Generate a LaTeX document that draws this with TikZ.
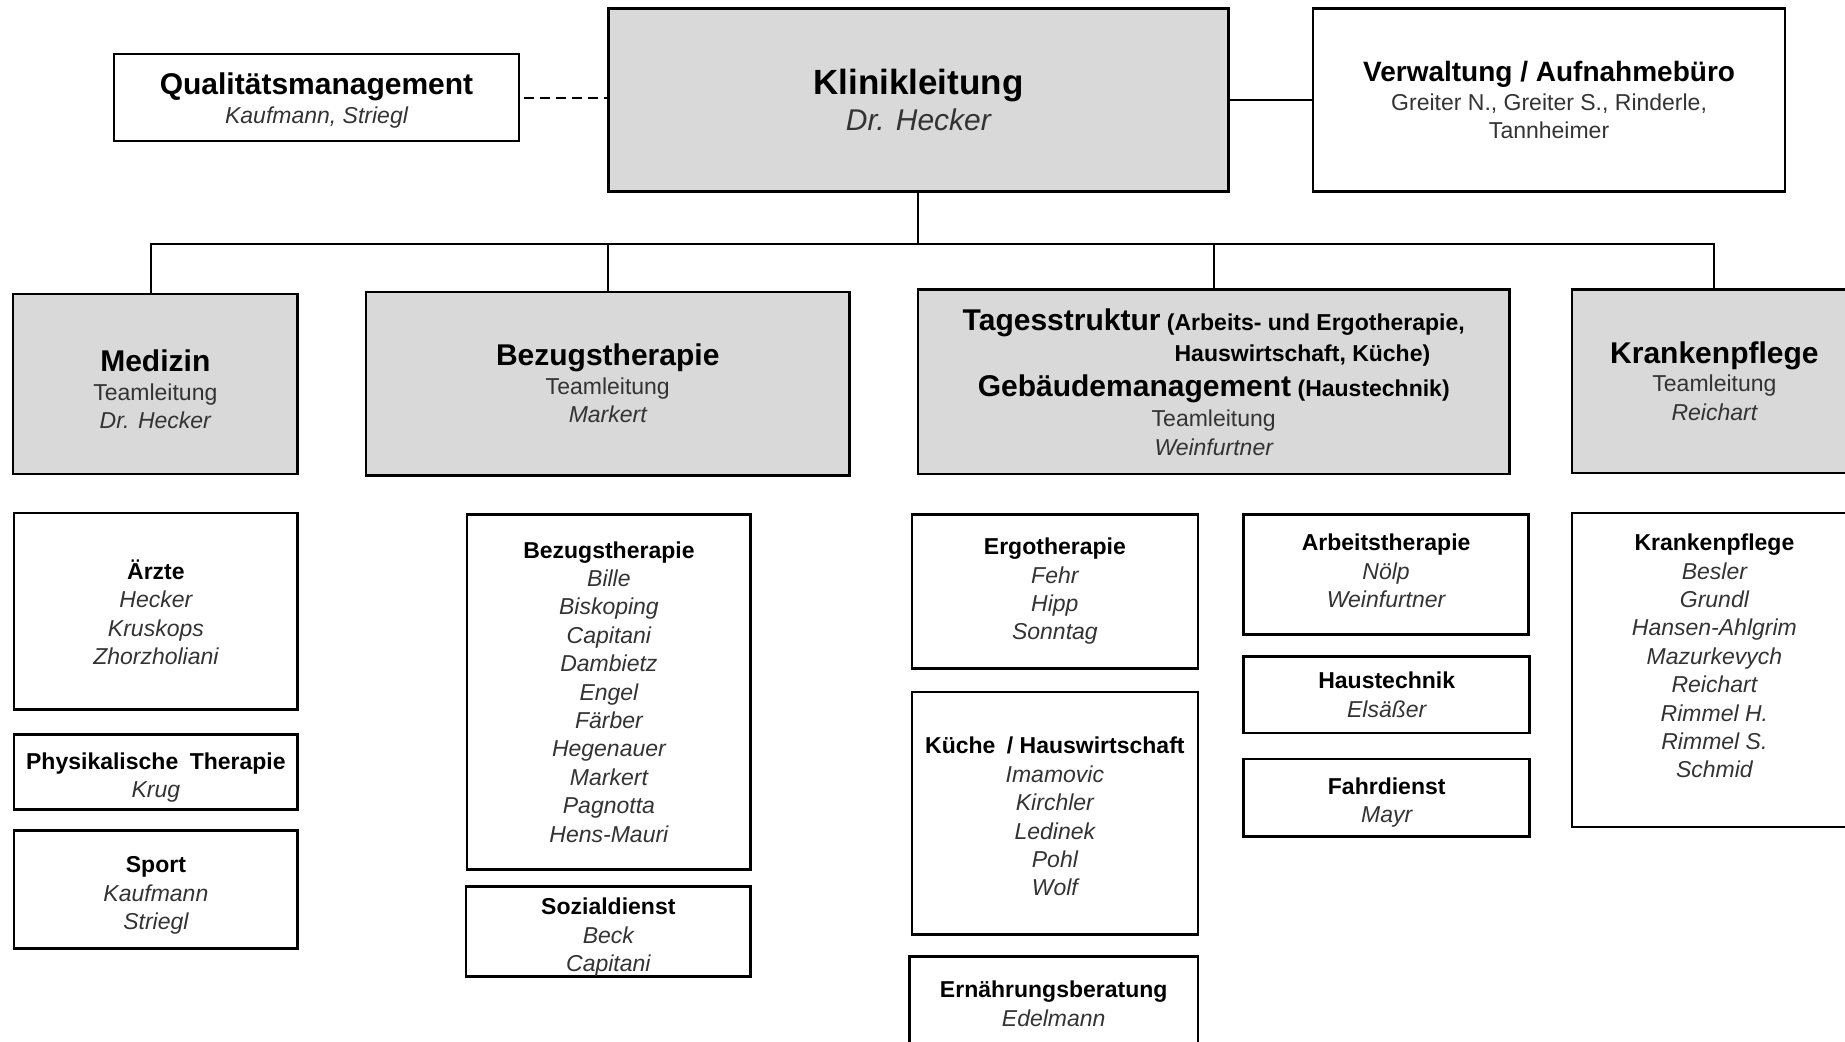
\documentclass[tikz,border=0pt]{standalone}
\usepackage{fontspec}
\setmainfont{Liberation Sans}
\definecolor{boxgray}{HTML}{D9D9D9}
\definecolor{namegray}{HTML}{333333}
\newcommand\Kopf[1]{{\fontsize{15}{17}\selectfont\bfseries #1}}
\newcommand\Person[1]{{\itshape\color{namegray}#1}}
\newcommand\Rolle[1]{{\color{namegray}#1}}
\newcommand\Hoch[1]{\rule{0pt}{#1}}
\newcommand\Tief[1]{\rule[-#1]{0pt}{#1}}
\tikzset{
  box/.style={draw, line width=1.3pt, fill=white, align=center, inner sep=0pt,
    font=\fontsize{11.5}{14.2}\selectfont},
  leitbox/.style={box, fill=boxgray},
  sz/.style 2 args={minimum width=#1*0.5883pt, minimum height=#2*0.5883pt},
  link/.style={line width=1pt},
}
\begin{document}
\begin{tikzpicture}[x=0.5883pt,y=0.5883pt,yscale=-1]
\useasboundingbox (0,0) rectangle (1568,885);
\clip (0,0) rectangle (1568,885);

%Box: Klinikleitung
\node[leitbox, sz={527}{156}, font=\fontsize{15}{17.6}\selectfont] (klinik) at (780.5,85)
  {{\fontsize{17.5}{20}\selectfont\bfseries Klinikleitung}\\ \Person{Dr. Hecker}};
%Box: Qualitaetsmanagement
\node[box, sz={344}{74}] (qual) at (269,83)
  {\Hoch{13.8pt}\Kopf{Qualitätsmanagement}\\ \Person{Kaufmann, Striegl}};
%Box: Verwaltung
\node[box, sz={401}{156}] (verw) at (1316.5,85)
  {{\fontsize{14}{16}\selectfont\bfseries Verwaltung / Aufnahmebüro}\\
   \Rolle{Greiter N., Greiter S., Rinderle,}\\ \Rolle{Tannheimer}};

%Boxes: Leitung der Bereiche
\node[leitbox, sz={242}{153}] (med) at (132,326.5)
  {\Hoch{16.3pt}\Kopf{Medizin}\\ \Rolle{Teamleitung}\\ \Person{Dr. Hecker}};
\node[leitbox, sz={411}{156}] (bez) at (516.5,326)
  {\Kopf{Bezugstherapie}\\ \Rolle{Teamleitung}\\ \Person{Markert}};
\node[leitbox, sz={503}{157}] (tag) at (1031.5,324.5)
  {\Kopf{Tagesstruktur} {\bfseries (Arbeits- und Ergotherapie,}\\[1.7pt]
   {\bfseries\phantom{\Kopf{Tagesstruktur} (}\rlap{Hauswirtschaft, Küche)}\phantom{Arbeits- und Ergotherapie,}}\\[2.9pt]
   \Kopf{Gebäudemanagement} {\bfseries (Haustechnik)}\\[1.1pt]
   \Rolle{Teamleitung}\\ \Person{Weinfurtner}};
\node[leitbox, sz={242}{156}] (kpf) at (1457,324)
  {\Kopf{Krankenpflege}\\ \Rolle{Teamleitung}\\ \Person{Reichart}};

%Boxes: Medizin
\node[box, sz={241}{167}] (aerzte) at (132.5,519.5)
  {\Hoch{10.7pt}\textbf{Ärzte}\\ \Person{Hecker}\\ \Person{Kruskops}\\ \Person{Zhorzholiani}};
\node[box, sz={241}{64}] (phys) at (132.5,656)
  {\Hoch{13.7pt}\textbf{Physikalische\hspace{0.5em}Therapie}\\ \Person{Krug}};
\node[box, sz={241}{100}] (sport) at (132.5,756)
  {\Hoch{14.2pt}\textbf{Sport}\\ \Person{Kaufmann}\\ \Person{Striegl}};

%Boxes: Bezugstherapie
\node[box, sz={241}{302}] (bezliste) at (517.5,588)
  {\textbf{Bezugstherapie}\\ \Person{Bille}\\ \Person{Biskoping}\\ \Person{Capitani}\\
   \Person{Dambietz}\\ \Person{Engel}\\ \Person{Färber}\\ \Person{Hegenauer}\\
   \Person{Markert}\\ \Person{Pagnotta}\\ \Person{Hens-Mauri}};
\node[box, sz={242}{75}] (sozial) at (517,791.5)
  {\Hoch{14.3pt}\textbf{Sozialdienst}\\ \Person{Beck}\\ \Person{Capitani}};

%Boxes: Tagesstruktur
\node[box, sz={243}{131}] (ergo) at (896.5,502.5)
  {\textbf{Ergotherapie}\\ \Person{Fehr}\\ \Person{Hipp}\\ \Person{Sonntag}};
\node[box, sz={243}{206}] (kueche) at (896.5,691)
  {\Hoch{11.9pt}\textbf{Küche\hspace{0.5em}/ Hauswirtschaft}\\ \Person{Imamovic}\\ \Person{Kirchler}\\
   \Person{Ledinek}\\ \Person{Pohl}\\ \Person{Wolf}};
\node[box, sz={245}{80}] (ernaehr) at (895.5,853)
  {\textbf{Ernährungsberatung}\\ \Person{Edelmann}};
\node[box, sz={242}{102}] (arbeit) at (1178,488)
  {\textbf{Arbeitstherapie}\\ \Person{Nölp}\\ \Person{Weinfurtner}\Tief{3.5pt}};
\node[box, sz={243}{65}] (haus) at (1178.5,590.5)
  {\textbf{Haustechnik}\\ \Person{Elsäßer}};
\node[box, sz={243}{66}] (fahr) at (1178.5,678)
  {\Hoch{13.1pt}\textbf{Fahrdienst}\\ \Person{Mayr}};

%Box: Krankenpflege
\node[box, sz={242}{267}] (kpfliste) at (1457,569.5)
  {\textbf{Krankenpflege}\\ \Person{Besler}\\ \Person{Grundl}\\ \Person{Hansen-Ahlgrim}\\
   \Person{Mazurkevych}\\ \Person{Reichart}\\ \Person{Rimmel H.}\\ \Person{Rimmel S.}\\
   \Person{Schmid}\\ \mbox{}};

%Lines
\draw[link, dash pattern=on 5pt off 3pt] ([xshift=2pt]qual.east) -- (qual.east -| klinik.west);
\draw[link] (klinik.east) -- (verw.west);
\coordinate (bus) at (780.5,207);
\draw[link] (klinik.south) -- (bus);
\draw[link] ([xshift=-2.4pt]med.north) |- (bus) -| (kpf.north);
\draw[link] (bez.north) -- (bez.north |- bus);
\draw[link] (tag.north) -- (tag.north |- bus);

\end{tikzpicture}
\end{document}
